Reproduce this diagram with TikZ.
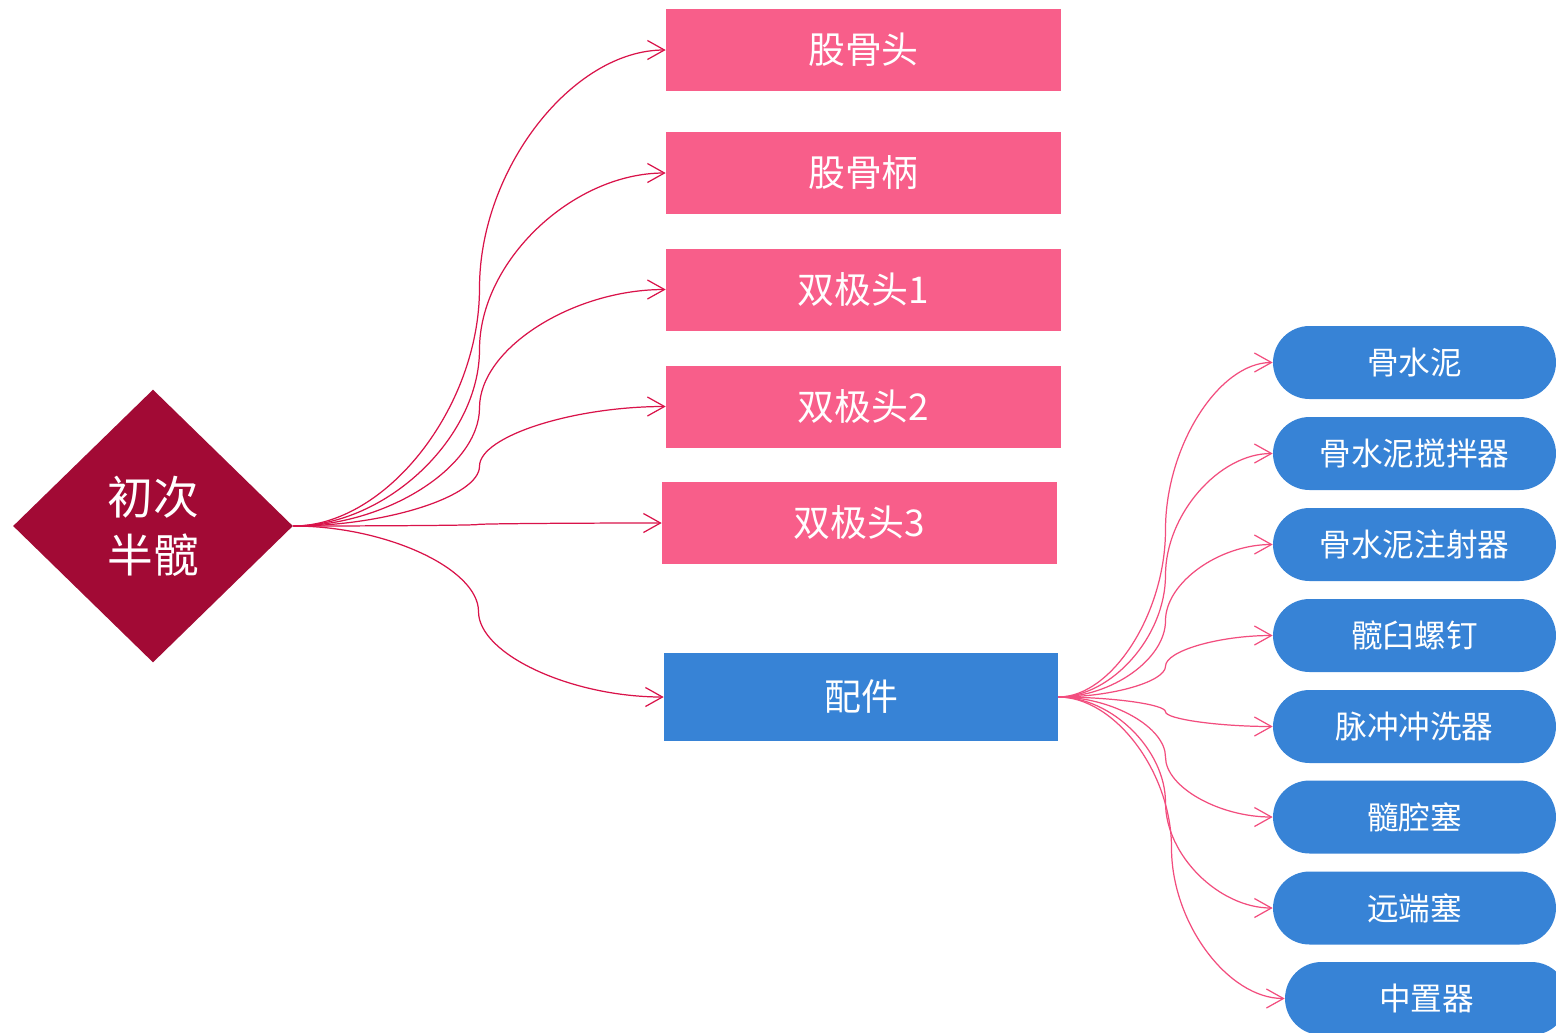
\documentclass[tikz,border=0pt]{standalone}
\usepackage{fontspec}
\setmainfont{Noto Sans CJK SC}
\usetikzlibrary{positioning,shapes.geometric,arrows.meta,calc}

\definecolor{granate}{HTML}{A20A35}
\definecolor{rosa}{HTML}{F85E8A}
\definecolor{azul}{HTML}{3783D6}
\definecolor{carmin}{HTML}{D9134A}
\definecolor{rosaclaro}{HTML}{F24D7E}

\begin{document}
\begin{tikzpicture}[x=0.02cm, y=0.02cm,
    raiz/.style={diamond, fill=granate, text=white, minimum width=5.6cm, minimum height=5.46cm, inner sep=0pt, align=center, font=\fontsize{26}{33}\selectfont},
    cabeza/.style={rectangle, fill=rosa, text=white, minimum width=7.9cm, minimum height=1.64cm, font=\fontsize{21}{25}\selectfont},
    accesorio/.style={rectangle, fill=azul, text=white, minimum width=7.88cm, minimum height=1.76cm, font=\fontsize{21}{25}\selectfont},
    pieza/.style={rectangle, rounded corners=7.3mm, fill=azul, text=white, minimum width=5.66cm, minimum height=1.46cm, inner xsep=0pt, font=\fontsize{18}{22}\selectfont},
    conector/.style={to path={let \p1=(\tikztostart), \p2=(\tikztotarget) in
        .. controls ({0.75*\x1+0.25*\x2},\y1) and ({0.5*\x1+0.5*\x2},{0.75*\y1+0.25*\y2}) .. ({0.5*\x1+0.5*\x2},{0.5*\y1+0.5*\y2})
        .. controls ({0.5*\x1+0.5*\x2},{0.25*\y1+0.75*\y2}) and ({0.25*\x1+0.75*\x2},\y2) .. (\tikztotarget)}},
    flecha/.style={conector, -{Straight Barb[length=3.4mm,width=3.8mm]}, line width=0.7pt, draw=carmin},
    flechab/.style={conector, -{Straight Barb[length=3.4mm,width=3.8mm]}, line width=0.7pt, draw=rosaclaro}]
            \useasboundingbox (0,0) rectangle (1556,-1032);
            \clip (0,0) rectangle (1556,-1032);

            % Nodos
            \node[raiz] (r) at (153,-526) {初次\\半髋};
            \node[cabeza] (h1) at (863.5,-50) {股骨头};
            \node[cabeza] (h2) at (863.5,-173) {股骨柄};
            \node[cabeza] (h3) at (863.5,-289.5) {双极头1};
            \node[cabeza] (h4) at (863.5,-406.5) {双极头2};
            \node[cabeza] (h5) at (859.5,-523) {双极头3};
            \node[accesorio] (acc) at (861,-697) {配件};
            \node[pieza] (p1) at (1414.5,-362.5) {骨水泥};
            \node[pieza] (p2) at (1414.5,-453.5) {骨水泥搅拌器};
            \node[pieza] (p3) at (1414.5,-544.5) {骨水泥注射器};
            \node[pieza] (p4) at (1414.5,-635.5) {髋臼螺钉};
            \node[pieza] (p5) at (1414.5,-726.5) {脉冲冲洗器};
            \node[pieza] (p6) at (1414.5,-817) {髓腔塞};
            \node[pieza] (p7) at (1414.5,-908) {远端塞};
            \node[pieza] (p8) at (1426.5,-998.5) {中置器};

            % Aristas
            \draw[flecha] (r.east) to (h1.west);
            \draw[flecha] (r.east) to (h2.west);
            \draw[flecha] (r.east) to (h3.west);
            \draw[flecha] (r.east) to (h4.west);
            \draw[flecha] (r.east) to (h5.west);
            \draw[flecha] (r.east) to (acc.west);

            \draw[flechab] (acc.east) to (p1.west);
            \draw[flechab] (acc.east) to (p2.west);
            \draw[flechab] (acc.east) to (p3.west);
            \draw[flechab] (acc.east) to (p4.west);
            \draw[flechab] (acc.east) to (p5.west);
            \draw[flechab] (acc.east) to (p6.west);
            \draw[flechab] (acc.east) to (p7.west);
            \draw[flechab] (acc.east) to (p8.west);
          \end{tikzpicture}
\end{document}
